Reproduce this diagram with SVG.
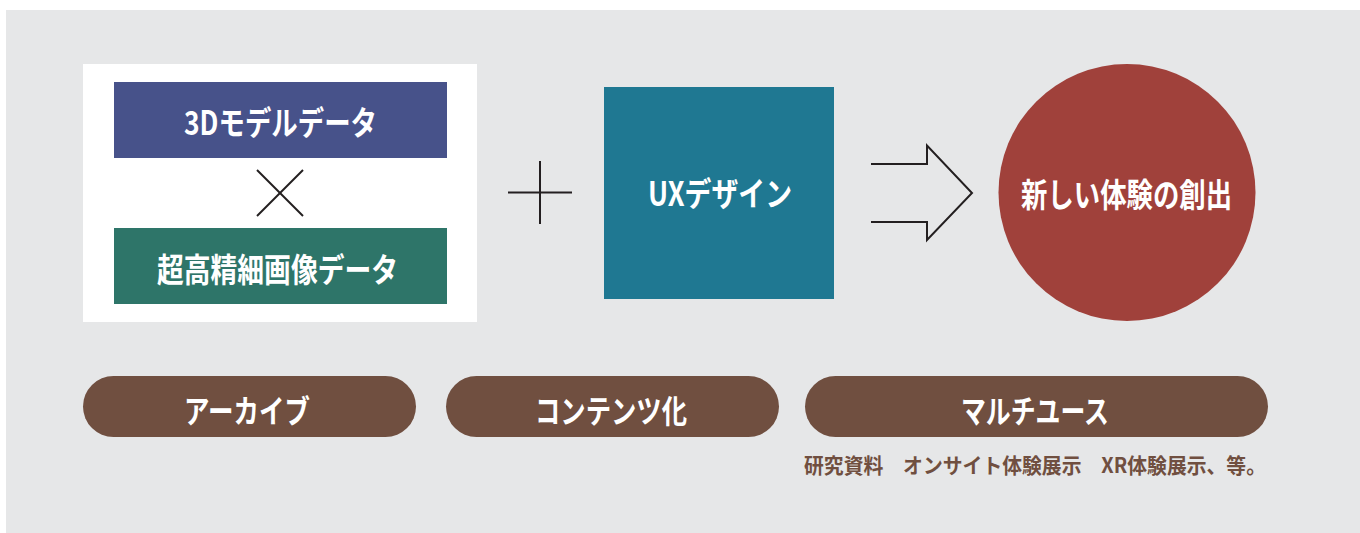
<svg xmlns="http://www.w3.org/2000/svg" width="1360" height="533" viewBox="0 0 1360 533">
<style>
.t{font-family:"Noto Sans CJK JP","Noto Sans",sans-serif;font-weight:700;fill:#ffffff;text-anchor:middle;dominant-baseline:central}
.sub{font-family:"Noto Sans CJK JP","Noto Sans",sans-serif;font-weight:700;fill:#704f40;font-size:21px}
.pill{fill:#704f40}
.ln{fill:none;stroke:#231f20;stroke-width:2}
</style>
<rect x="0" y="0" width="1360" height="533" fill="#ffffff"/>
<rect x="6" y="10" width="1354" height="523" fill="#e6e7e8"/>
<g id="source-panel">
<rect x="83" y="64" width="394" height="258" fill="#ffffff"/>
</g>
<g id="node-3d">
<rect x="114" y="82" width="333" height="76" fill="#47528a"/>
<text class="t" x="280.5" y="121" font-size="33" textLength="193" lengthAdjust="spacingAndGlyphs">3Dモデルデータ</text>
</g>
<g id="node-image">
<rect x="114" y="228" width="333" height="76" fill="#2e7569"/>
<text class="t" x="277.5" y="268" font-size="33" textLength="241" lengthAdjust="spacingAndGlyphs">超高精細画像データ</text>
</g>
<g id="node-ux">
<rect x="604" y="87" width="230" height="212" fill="#1f7892"/>
<text class="t" x="720" y="192" font-size="33" textLength="144" lengthAdjust="spacingAndGlyphs">UXデザイン</text>
</g>
<g id="node-result">
<circle cx="1127" cy="192.5" r="128.5" fill="#a0413b"/>
<text class="t" x="1126.5" y="193" font-size="33" textLength="211" lengthAdjust="spacingAndGlyphs">新しい体験の創出</text>
</g>
<g id="connectors">
<line class="ln" x1="257" y1="170" x2="303" y2="216"/>
<line class="ln" x1="303" y1="170" x2="257" y2="216"/>
<line class="ln" x1="508" y1="192.5" x2="572" y2="192.5"/>
<line class="ln" x1="540" y1="161" x2="540" y2="224"/>
<polyline class="ln" points="871,164 927,164 927,145.5 972,193 927,240 927,222 871,222"/>
</g>
<g id="pill-archive">
<rect class="pill" x="83" y="376" width="333" height="61" rx="30.5"/>
<text class="t" x="247" y="409" font-size="32" textLength="126" lengthAdjust="spacingAndGlyphs">アーカイブ</text>
</g>
<g id="pill-content">
<rect class="pill" x="446" y="376" width="333" height="61" rx="30.5"/>
<text class="t" x="611" y="409" font-size="32" textLength="152" lengthAdjust="spacingAndGlyphs">コンテンツ化</text>
</g>
<g id="pill-multiuse">
<rect class="pill" x="805" y="376" width="463" height="61" rx="30.5"/>
<text class="t" x="1035" y="409" font-size="32" textLength="148" lengthAdjust="spacingAndGlyphs">マルチユース</text>
</g>
<g id="multiuse-note">
<text class="sub" x="804" y="473" textLength="462" lengthAdjust="spacingAndGlyphs">研究資料　オンサイト体験展示　XR体験展示、等。</text>
</g>
</svg>
